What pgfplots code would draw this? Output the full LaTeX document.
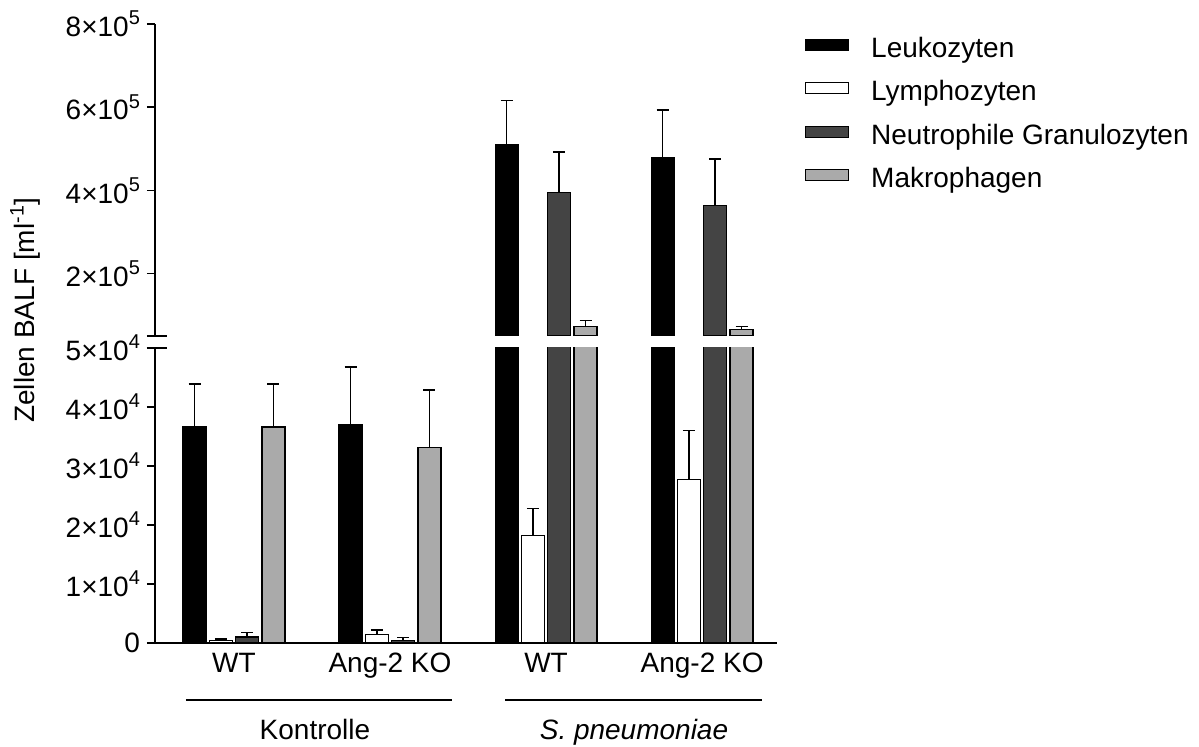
\documentclass[border=0pt]{standalone}
\usepackage{fontspec}
\setmainfont{Liberation Sans}
\usepackage{pgfplots}
\pgfplotsset{compat=1.18}
\usepackage{pgfplotstable}
\definecolor{neut}{HTML}{444444}
\definecolor{makro}{HTML}{AAAAAA}
\newcommand\sci[2]{#1×10\raisebox{0.8ex}{\fontsize{10}{10}\selectfont #2}}
\newcommand\fs{\fontsize{14}{16}\selectfont}

% all groups (lower, broken axis segment 0 .. 5e4)
\pgfplotstableread{
x y e
0 36600 7300
1 37000 9800
2 509000 107000
3 479000 114000
}\leuk
\pgfplotstableread{
x y e
0 400 300
1 1400 850
2 18200 4600
3 27700 8300
}\lymph
\pgfplotstableread{
x y e
0 1000 750
1 450 450
2 395000 98000
3 364000 111000
}\neut
\pgfplotstableread{
x y e
0 36600 7300
1 33200 9700
2 72000 15000
3 66000 7000
}\makro
% values that reach the upper segment (5e4 .. 8e5)
\pgfplotstableread{
x y e
2 509000 107000
3 479000 114000
}\leukU
\pgfplotstableread{
x y e
2 395000 98000
3 364000 111000
}\neutU
\pgfplotstableread{
x y e
2 72000 15000
3 66000 7000
}\makroU

\pgfplotsset{
  mybase/.style={
    scale only axis, width=311pt,
    xmin=-0.506, xmax=3.48,
    ybar, bar width=11.5pt,
    clip marker paths=true,
    tick align=outside, major tick length=4pt,
    tick style={black, line width=0.75pt},
    xtick style={draw=none},
    axis line style={-, line width=0.75pt},
    ticklabel style={font=\fs},
    every axis plot/.append style={draw=black, line width=0.6pt},
    error bars/error bar style={line width=0.8pt, black},
    error bars/error mark options={rotate=90, mark size=3pt, line width=0.8pt, black},
    scaled y ticks=false,
  },
  pl/.style={error bars/y dir=plus, error bars/y explicit},
  s1/.style={bar shift=-19.725pt},
  s2/.style={bar shift=-6.575pt},
  s3/.style={bar shift=6.575pt},
  s4/.style={bar shift=19.725pt},
}

\begin{document}
\begin{tikzpicture}
\begin{axis}[mybase, name=lower, at={(0,0)}, anchor=south west,
  height=147.5pt, ymin=0, ymax=50000,
  axis x line*=bottom, axis y line*=left,
  xtick={0,1,2,3}, xticklabels={WT,Ang-2 KO,WT,Ang-2 KO},
  xticklabel style={yshift=2.5pt},
  ytick={0,10000,20000,30000,40000,50000},
  yticklabels={0,\sci{1}{4},\sci{2}{4},\sci{3}{4},\sci{4}{4},\sci{5}{4}},
]
\addplot[pl, s1, fill=black] table[x=x, y=y, y error=e] {\leuk};
\addplot[pl, s2, fill=white] table[x=x, y=y, y error=e] {\lymph};
\addplot[pl, s3, fill=neut] table[x=x, y=y, y error=e] {\neut};
\addplot[pl, s4, fill=makro] table[x=x, y=y, y error=e] {\makro};
\end{axis}

\begin{axis}[mybase, name=upper, at={(0,153.5pt)}, anchor=south west,
  height=156pt, ymin=50000, ymax=800000,
  axis x line=none, axis y line*=left,
  xtick=\empty,
  ytick={200000,400000,600000,800000},
  yticklabels={\sci{2}{5},\sci{4}{5},\sci{6}{5},\sci{8}{5}},
  legend style={at={(1.045,0.958)}, anchor=north west, draw=none, fill=none,
    inner sep=0pt, outer sep=0pt, row sep=8.8pt, column sep=11pt, font=\fs,
    nodes={inner sep=0pt, text height=10pt, text depth=3pt}},
  legend cell align=left,
  legend image code/.code={\draw[#1, line width=0.6pt] (0pt,0pt) rectangle (21.5pt,5.5pt);},
]
\addplot[pl, s1, fill=black, forget plot] table[x=x, y=y, y error=e] {\leukU};
\addplot[pl, s3, fill=neut, forget plot] table[x=x, y=y, y error=e] {\neutU};
\addplot[pl, s4, fill=makro, forget plot] table[x=x, y=y, y error=e] {\makroU};
\addlegendimage{fill=black, draw=black}
\addlegendentry{Leukozyten}
\addlegendimage{fill=white, draw=black}
\addlegendentry{Lymphozyten}
\addlegendimage{fill=neut, draw=black}
\addlegendentry{Neutrophile Granulozyten}
\addlegendimage{fill=makro, draw=black}
\addlegendentry{Makrophagen}
\end{axis}

\draw[line width=0.75pt] ([xshift=-4pt]upper.south west) -- ([xshift=6pt]upper.south west);
\draw[line width=0.75pt] ([xshift=-4pt]lower.north west) -- ([xshift=6pt]lower.north west);

\node[rotate=90, font=\fs] at (-65pt,166.5pt) {Zellen BALF [ml\textsuperscript{-1}]};

\draw[line width=1pt] (15.5pt,-28.5pt) -- (148.5pt,-28.5pt);
\draw[line width=1pt] (175pt,-28.5pt) -- (303.5pt,-28.5pt);
\node[font=\fs, anchor=base] at (80pt,-48.5pt) {Kontrolle};
\node[font=\fs, anchor=base] at (239.5pt,-48.5pt) {\textit{S. pneumoniae}};

\pgfresetboundingbox
\path[use as bounding box] (-77.5pt,-52pt) rectangle (522pt,321.5pt);
\end{tikzpicture}
\end{document}
